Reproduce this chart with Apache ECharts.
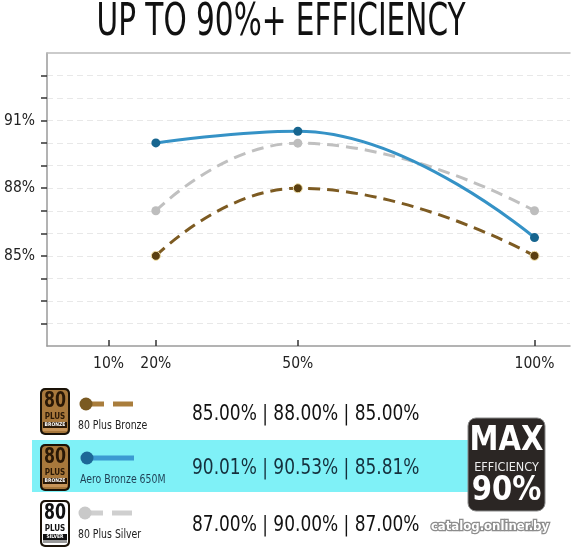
<!DOCTYPE html>
<html>
<head>
    <meta charset="utf-8">
    <script src="https://cdn.jsdelivr.net/npm/echarts@6/dist/echarts.min.js"></script>
    <style>
        html, body { margin: 0; padding: 0; background: #fff; }
        #main { width: 573px; height: 550px; }
    </style>
</head>
<body>
    <div id="main"></div>
    <script>
        // load points (%)
        var loads = [20, 50, 100];
        var xTickValues = [10, 20, 50, 100];
        var yTickValues = [82, 83, 84, 85, 86, 87, 88, 89, 90, 91, 92, 93];
        var yLabelValues = [85, 88, 91];

        // efficiency (%)
        var bronze = [85.00, 88.00, 85.00];
        var aero = [90.01, 90.53, 85.81];
        var silver = [87.00, 90.00, 87.00];

        var FONT = "'DejaVu Sans Condensed', 'DejaVu Sans', sans-serif";

        function pairs(ys) {
            return loads.map(function (x, i) { return [x, ys[i]]; });
        }
        function fmt(ys) {
            return ys.map(function (v) { return v.toFixed(2) + '%'; }).join(' | ');
        }

        // narrow text: condensed face squeezed a bit more
        function label(x, y, text, size, color, sx, extra) {
            var st = { x: 0, y: 0, text: text, fill: color, font: size + 'px ' + FONT,
                verticalAlign: 'middle' };
            for (var k in extra || {}) st[k] = extra[k];
            return { type: 'text', x: x, y: y, scaleX: sx, style: st };
        }

        // 80 PLUS badge built from simple shapes
        function badge(x, y, silverStyle) {
            var fill = silverStyle ? '#ffffff' : '#a8783c';
            var ink = silverStyle ? '#111111' : '#2a1806';
            return {
                type: 'group', x: x, y: y,
                children: [
                    { type: 'rect', shape: { x: 0, y: 0, width: 30, height: 47, r: 5 },
                      style: { fill: '#1a1208' } },
                    { type: 'rect', shape: { x: 2, y: 2, width: 26, height: 43, r: 4 },
                      style: { fill: fill } },
                    { type: 'text', x: 15, y: 13, scaleX: 0.8, style: { text: '80', fill: ink, align: 'center',
                      verticalAlign: 'middle', font: 'bold 22px ' + FONT } },
                    { type: 'text', x: 15, y: 29, style: { text: 'PLUS', fill: ink, align: 'center',
                      verticalAlign: 'middle', font: 'bold 8px ' + FONT } },
                    { type: 'rect', shape: { x: 3, y: 34, width: 24, height: 6 },
                      style: { fill: silverStyle ? '#111' : '#2a1806' } },
                    { type: 'text', x: 15, y: 37, style: { text: silverStyle ? 'SILVER' : 'BRONZE',
                      fill: '#fff', align: 'center', verticalAlign: 'middle', font: 'bold 5px ' + FONT } },
                    { type: 'rect', shape: { x: 3, y: 40, width: 24, height: 3 },
                      style: { fill: silverStyle ? '#999' : '#c8955a' } }
                ]
            };
        }

        function sample(x, y, dotColor, lineColor, dashed) {
            var kids = [];
            if (dashed) {
                kids.push({ type: 'line', shape: { x1: x + 4, y1: y, x2: x + 22, y2: y },
                    style: { stroke: lineColor, lineWidth: 5 } });
                kids.push({ type: 'line', shape: { x1: x + 31, y1: y, x2: x + 51, y2: y },
                    style: { stroke: lineColor, lineWidth: 5 } });
            } else {
                kids.push({ type: 'line', shape: { x1: x + 4, y1: y, x2: x + 51, y2: y },
                    style: { stroke: lineColor, lineWidth: 5 } });
            }
            kids.push({ type: 'circle', shape: { cx: x + 4, cy: y, r: 6.5 }, style: { fill: dotColor } });
            return { type: 'group', children: kids };
        }

        var myChart = echarts.init(document.getElementById('main'));
        var option = {
            backgroundColor: '#ffffff',
            animation: false,
            grid: { left: 47, right: 3, top: 53, bottom: 204, outerBoundsMode: 'none', containLabel: false },
            xAxis: [
                {
                    type: 'value',
                    min: -3,
                    max: 107.5,
                    axisLine: { onZero: false, lineStyle: { color: '#9a9a9a', width: 1.5 } },
                    axisTick: { inside: true, length: 6, customValues: xTickValues,
                        lineStyle: { color: '#333', width: 1.5 } },
                    axisLabel: { customValues: xTickValues, margin: 10,
                        formatter: '{value}%', fontFamily: FONT, fontSize: 15.5, color: '#222' },
                    splitLine: { show: false }
                },
                {
                    type: 'value',
                    position: 'top',
                    min: -3,
                    max: 107.5,
                    axisLine: { show: true, onZero: false, lineStyle: { color: '#bbbbbb', width: 1.5 } },
                    axisTick: { show: false },
                    axisLabel: { show: false },
                    splitLine: { show: false }
                }
            ],
            yAxis: {
                type: 'value',
                min: 81,
                max: 94,
                interval: 1,
                axisLine: { show: true, onZero: false, lineStyle: { color: '#9a9a9a', width: 1.5 } },
                axisTick: { show: true, length: 6, customValues: yTickValues,
                    lineStyle: { color: '#333', width: 1.5 } },
                axisLabel: { customValues: yLabelValues, margin: 12,
                    formatter: '{value}%', fontFamily: FONT, fontSize: 15.5, color: '#222' },
                splitLine: { show: true, lineStyle: { color: '#e8e8e8', type: [6, 4] } }
            },
            series: [
                {
                    name: '80 Plus Bronze',
                    type: 'line',
                    smooth: 0.5,
                    data: pairs(bronze),
                    symbol: 'circle',
                    symbolSize: 9,
                    lineStyle: { color: '#7d5b22', width: 3, type: [12, 7] },
                    itemStyle: { color: '#5a3f10', borderColor: '#f3e2a8', borderWidth: 1 },
                    z: 3
                },
                {
                    name: '80 Plus Silver',
                    type: 'line',
                    smooth: 0.5,
                    data: pairs(silver),
                    symbol: 'circle',
                    symbolSize: 9,
                    lineStyle: { color: '#c0c0c0', width: 3, type: [12, 7] },
                    itemStyle: { color: '#bdbdbd' },
                    z: 2
                },
                {
                    name: 'Aero Bronze 650M',
                    type: 'line',
                    smooth: 0.45,
                    data: pairs(aero),
                    symbol: 'circle',
                    symbolSize: 9,
                    lineStyle: { color: '#3592c6', width: 3 },
                    itemStyle: { color: '#17658f' },
                    z: 4
                }
            ],
            graphic: [
                // title
                label(281, 23, 'UP TO 90%+ EFFICIENCY', 45, '#111', 0.73, { align: 'center' }),

                // highlight band for the featured model
                { type: 'rect', shape: { x: 32, y: 440, width: 437, height: 52 },
                  style: { fill: '#7ff1f7' }, z: -1 },

                badge(40, 388, false),
                badge(40, 444, false),
                badge(40, 500, true),

                sample(82, 404, '#7a5a22', '#a97d3c', true),
                sample(83, 458, '#1d6897', '#3b9ad2', false),
                sample(81, 513, '#c9c9c9', '#cfcfcf', true),

                label(78, 426, '80 Plus Bronze', 13, '#222', 0.8),
                label(80, 480, 'Aero Bronze 650M', 13, '#1f3f55', 0.8),
                label(78, 535, '80 Plus Silver', 13, '#222', 0.8),

                label(192, 415, fmt(bronze), 21, '#111', 0.9),
                label(192, 469, fmt(aero), 21, '#15303d', 0.9),
                label(192, 526, fmt(silver), 21, '#111', 0.9),

                // MAX EFFICIENCY 90% badge
                {
                    type: 'group', x: 468, y: 418,
                    children: [
                        { type: 'rect', shape: { x: 0, y: 0, width: 77, height: 93, r: 8 },
                          style: { fill: '#2b2624', stroke: '#8a8a8a', lineWidth: 1 } },
                        { type: 'text', x: 38.5, y: 23, scaleX: 0.95, style: { text: 'MAX', fill: '#fff',
                          align: 'center', verticalAlign: 'middle', font: 'bold 34px ' + FONT } },
                        { type: 'text', x: 38.5, y: 50, style: { text: 'EFFICIENCY', fill: '#eee',
                          align: 'center', verticalAlign: 'middle', font: '12.5px ' + FONT } },
                        { type: 'text', x: 38.5, y: 73, scaleX: 0.95, style: { text: '90%', fill: '#fff',
                          align: 'center', verticalAlign: 'middle', font: 'bold 34px ' + FONT } }
                    ]
                },
                // watermark
                { type: 'text', x: 490, y: 527, z: 10, style: { text: 'catalog.onliner.by', fill: '#ffffff',
                  align: 'center', verticalAlign: 'middle', font: 'bold 13px ' + FONT,
                  stroke: '#8c8c8c', lineWidth: 2.5 } }
            ]
        };

        myChart.setOption(option);
    </script>
</body>
</html>
